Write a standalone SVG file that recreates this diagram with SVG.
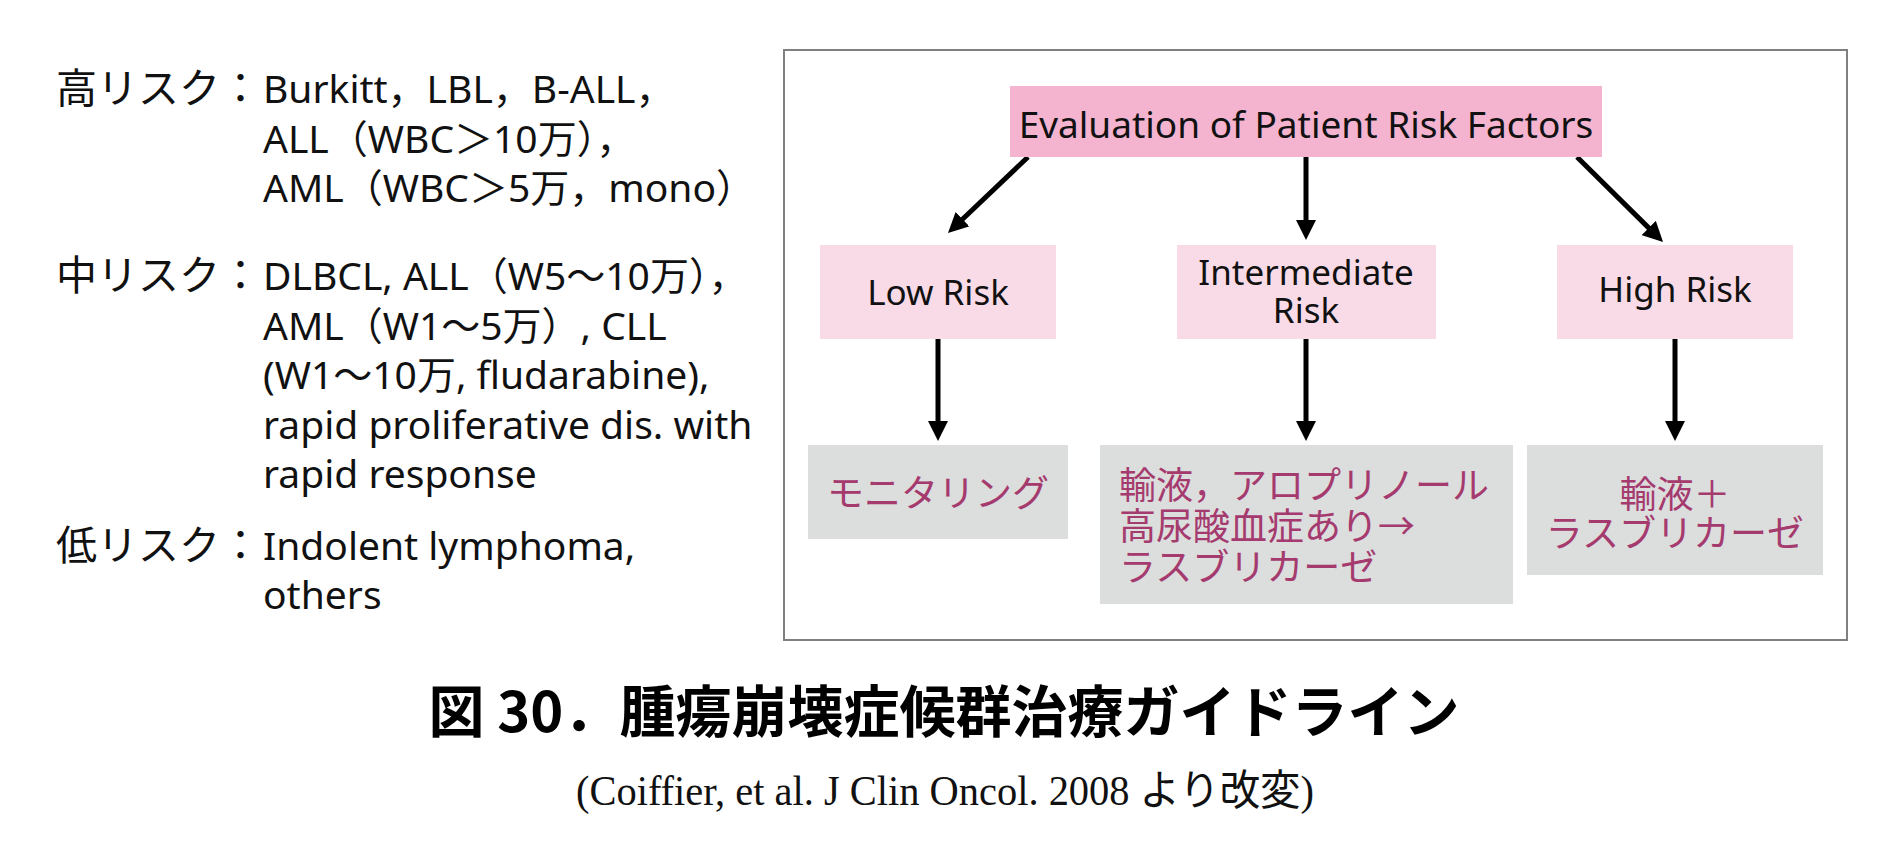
<svg xmlns="http://www.w3.org/2000/svg" width="1890" height="850" viewBox="0 0 1890 850">
<defs>
<style>
.t{font-family:"Noto Sans","Noto Sans CJK JP",sans-serif;fill:#111;}
.lt{font-size:39px;}
.lb{font-size:41px;}
.box1{fill:#f4b4cf;}
.box2{fill:#f9dbe7;}
.box3{fill:#dcdddd;}
.mg{font-family:"Noto Sans CJK JP",sans-serif;font-size:37px;fill:#a53a6e;}
.nt{font-size:35px;text-anchor:middle;}
.con{stroke:#000;stroke-width:5;fill:none;marker-end:url(#ah);}
</style>
<marker id="ah" viewBox="0 0 20 20" markerWidth="20" markerHeight="20" refX="8" refY="10" orient="auto" markerUnits="userSpaceOnUse">
<path d="M0,0 L20,10 L0,20 z" fill="#000"/>
</marker>
</defs>
<rect width="1890" height="850" fill="#fff"/>

<g id="risk-list">
<text class="t lb" x="56" y="103">高リスク：</text>
<text class="t lt" x="263" y="103">Burkitt，LBL，B-ALL，</text>
<text class="t lt" x="263" y="152.5">ALL（WBC＞10万），</text>
<text class="t lt" x="263" y="202">AML（WBC＞5万，mono）</text>
<text class="t lb" x="56" y="290">中リスク：</text>
<text class="t lt" x="263" y="290">DLBCL, ALL（W5～10万），</text>
<text class="t lt" x="263" y="339.5">AML（W1～5万）, CLL</text>
<text class="t lt" x="263" y="389">(W1～10万, fludarabine),</text>
<text class="t lt" x="263" y="438.5">rapid proliferative dis. with</text>
<text class="t lt" x="263" y="488">rapid response</text>
<text class="t lb" x="56" y="560">低リスク：</text>
<text class="t lt" x="263" y="560">Indolent lymphoma,</text>
<text class="t lt" x="263" y="609">others</text>
</g>

<rect id="frame" x="784" y="50" width="1063" height="590" fill="none" stroke="#808080" stroke-width="2"/>

<g id="connectors">
<path class="con" d="M1028,157 L956.7,224.7"/>
<path class="con" d="M1306,157 L1306,228"/>
<path class="con" d="M1577,157 L1654.5,233.6"/>
<path class="con" d="M938,339 L938,429"/>
<path class="con" d="M1306,339 L1306,429"/>
<path class="con" d="M1675,339 L1675,429"/>
</g>

<g id="eval">
<rect class="box1" x="1010" y="86" width="592" height="71"/>
<text class="t" x="1306" y="137.5" font-size="37" text-anchor="middle">Evaluation of Patient Risk Factors</text>
</g>

<g id="low">
<rect class="box2" x="820" y="245" width="236" height="94"/>
<text class="t nt" x="938" y="305">Low Risk</text>
</g>
<g id="intermediate">
<rect class="box2" x="1177" y="245" width="259" height="94"/>
<text class="t nt" x="1306" y="285">Intermediate<tspan x="1306" dy="38">Risk</tspan></text>
</g>
<g id="high">
<rect class="box2" x="1557" y="245" width="236" height="94"/>
<text class="t nt" x="1675" y="302">High Risk</text>
</g>

<g id="monitor">
<rect class="box3" x="808" y="445" width="260" height="94"/>
<text class="mg" x="938" y="507" text-anchor="middle">モニタリング</text>
</g>
<g id="treat-mid">
<rect class="box3" x="1100" y="445" width="413" height="159"/>
<text class="mg" x="1119" y="499">輸液，アロプリノール<tspan x="1119" dy="41">高尿酸血症あり→</tspan><tspan x="1119" dy="41">ラスブリカーゼ</tspan></text>
</g>
<g id="treat-high">
<rect class="box3" x="1527" y="445" width="296" height="130"/>
<text class="mg" x="1675" y="508" text-anchor="middle">輸液＋<tspan x="1675" dy="39">ラスブリカーゼ</tspan></text>
</g>

<g id="caption">
<text x="944" y="732" font-family="Noto Sans CJK JP,sans-serif" font-weight="bold" font-size="56" text-anchor="middle" fill="#000">図 30．腫瘍崩壊症候群治療ガイドライン</text>
<text x="576" y="805" font-family="Liberation Serif,Noto Sans CJK JP,serif" font-size="42" textLength="738" lengthAdjust="spacingAndGlyphs" fill="#111">(Coiffier, et al. J Clin Oncol. 2008 より改変)</text>
</g>
</svg>
